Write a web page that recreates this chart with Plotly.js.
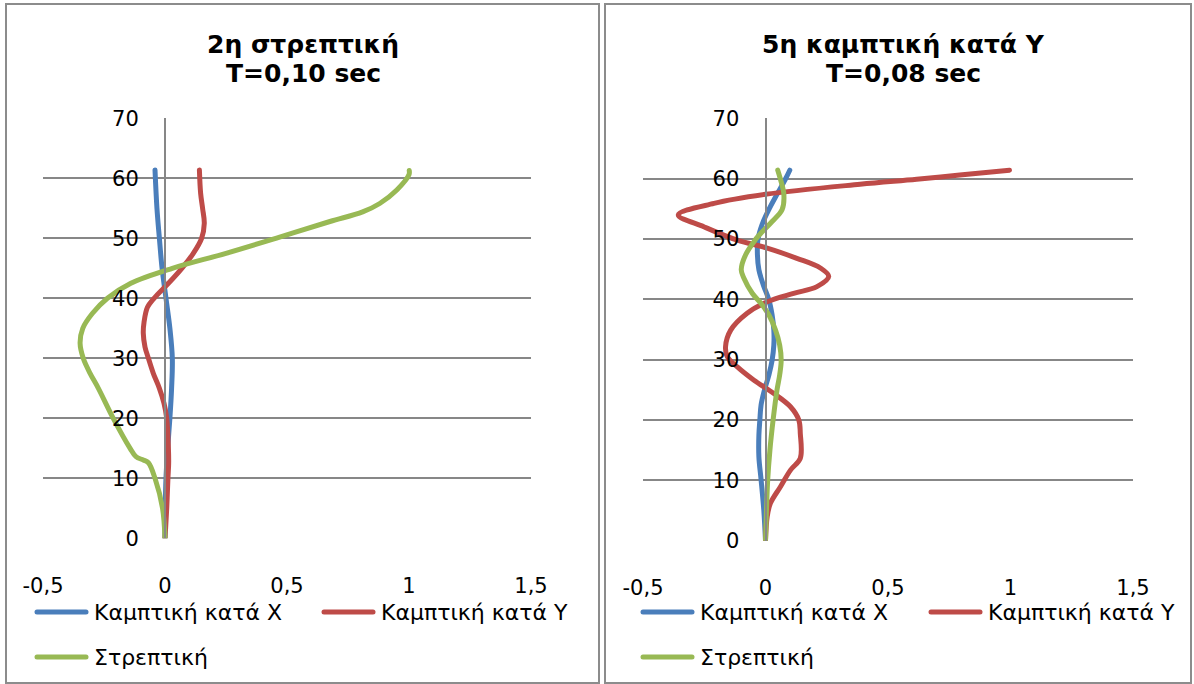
<!DOCTYPE html>
<html>
<head>
<meta charset="utf-8">
<script src="https://cdn.plot.ly/plotly-3.0.1.min.js"></script>
<style>
  html, body { margin: 0; padding: 0; background: #ffffff; }
  #chart { width: 1194px; height: 684px; }
  .scatterlayer .js-line { stroke-linecap: round; stroke-linejoin: round; }
  .legend-sample path { stroke-linecap: round; }
</style>
</head>
<body>
<div id="chart"></div>
<script>
// Mode shapes: normalised displacement (x) against building height in m (y)
const seriesNames = ['Καμπτική κατά Χ', 'Καμπτική κατά Υ', 'Στρεπτική'];
const seriesColors = ['#4A7EBB', '#BE4B48', '#98B954'];

const panelTitles = [
  ['2η στρεπτική', 'T=0,10 sec'],
  ['5η καμπτική κατά Υ', 'T=0,08 sec']
];

const xTickVals = [-0.5, 0, 0.5, 1, 1.5];
const xTickText = ['-0,5', '0', '0,5', '1', '1,5'];
const yTickVals = [0, 10, 20, 30, 40, 50, 60, 70];

// Panel 1 — 2η στρεπτική
const p1BendX_x = [0, 0.001, 0.004, 0.011, 0.020, 0.027, 0.030, 0.020, 0.004, -0.012, -0.023, -0.033, -0.041];
const p1BendX_y = [0, 5, 10, 15, 20, 25, 30, 35, 40, 45, 50, 55, 61.4];

const p1BendY_x = [0, 0.007, 0.012, 0.015, 0.014, 0.007, -0.004, -0.023, -0.048, -0.068, -0.082, -0.089, -0.086, -0.072, -0.045, 0.014, 0.069, 0.116, 0.150, 0.161, 0.154, 0.146, 0.141];
const p1BendY_y = [0, 5, 10, 12.5, 15, 20, 22.5, 25, 27.5, 30, 31.9, 34.2, 36, 38.5, 40, 42.5, 45, 47.5, 50, 52.5, 55, 57.5, 61.4];

const p1Tors_x = [0, -0.010, -0.041, -0.068, -0.089, -0.119, -0.143, -0.212, -0.273, -0.307, -0.335, -0.348, -0.337, -0.297, -0.236, -0.140, 0.030, 0.250, 0.470, 0.676, 0.810, 0.880, 0.950, 1.000, 1.001];
const p1Tors_y = [0, 5, 10, 12.6, 13.05, 13.6, 15, 20, 25, 27.5, 30, 32.5, 35, 37.5, 40, 42.5, 45, 47.5, 50.2, 52.8, 54.4, 55.8, 58.05, 60.6, 61.3];

// Panel 2 — 5η καμπτική κατά Υ
const p2BendX_x = [0, -0.007, -0.018, -0.027, -0.027, -0.023, -0.018, -0.004, 0.014, 0.027, 0.034, 0.034, 0.027, 0.014, -0.009, -0.027, -0.033, -0.031, -0.014, 0.014, 0.047, 0.081, 0.099];
const p2BendX_y = [0, 5.1, 10.1, 13.9, 17.5, 20.0, 22.5, 25.0, 27.5, 29.9, 32.4, 34.9, 37.4, 39.9, 42.4, 44.9, 47.4, 49.9, 52.4, 54.9, 57.4, 59.9, 61.4];

const p2BendY_x = [0, 0.007, 0.020, 0.061, 0.102, 0.142, 0.142, 0.136, 0.102, 0.034, -0.047, -0.115, -0.156, -0.163, -0.142, -0.075, 0.007, 0.115, 0.210, 0.258, 0.224, 0.128, 0.007, -0.115, -0.250, -0.356, -0.210, 0, 0.386, 0.617, 0.793, 0.996];
const p2BendY_y = [0, 4.0, 6.2, 8.95, 11.7, 13.65, 17.8, 20.0, 22.2, 24.4, 26.6, 28.8, 30.5, 32.2, 34.9, 37.7, 39.6, 41.0, 42.1, 43.8, 45.2, 46.8, 48.5, 49.8, 52.0, 54.0, 55.9, 57.4, 59.07, 59.9, 60.6, 61.4];

const p2Tors_x = [0, 0.004, 0.009, 0.018, 0.031, 0.047, 0.058, 0.064, 0.058, 0.041, 0.014, -0.014, -0.054, -0.088, -0.099, -0.081, -0.041, -0.020, 0.027, 0.068, 0.075, 0.061, 0.050];
const p2Tors_y = [0, 5.1, 10.1, 15.0, 20.0, 25.0, 27.5, 29.9, 32.4, 34.9, 37.4, 39.1, 41.0, 43.5, 44.9, 47.4, 49.9, 50.9, 52.9, 54.9, 57.4, 59.9, 61.4];

const W = 1194, H = 684;
const fx = px => px / W;
const fy = px => 1 - px / H;

const FONT = '"DejaVu Sans", Verdana, sans-serif';
const GRID = '#878787';
const LINE_W = 5;

function line(xs, ys, i, xa, ya) {
  return {
    x: xs, y: ys, xaxis: xa, yaxis: ya,
    type: 'scatter', mode: 'lines',
    name: seriesNames[i], showlegend: false,
    line: { color: seriesColors[i], width: LINE_W, shape: 'spline', smoothing: 1 },
    hoverinfo: 'x+y'
  };
}

const data = [
  line(p1BendX_x, p1BendX_y, 0, 'x', 'y'),
  line(p1BendY_x, p1BendY_y, 1, 'x', 'y'),
  line(p1Tors_x, p1Tors_y, 2, 'x', 'y'),
  line(p2BendX_x, p2BendX_y, 0, 'x2', 'y2'),
  line(p2BendY_x, p2BendY_y, 1, 'x2', 'y2'),
  line(p2Tors_x, p2Tors_y, 2, 'x2', 'y2')
];

function xAxis(x0, x1, anchor) {
  return {
    domain: [fx(x0), fx(x1)], anchor: anchor,
    range: [-0.5, 1.5], tickmode: 'array', tickvals: xTickVals, ticktext: xTickText,
    showgrid: false, zeroline: false, showline: false,
    ticks: 'outside', ticklen: 28, tickcolor: 'rgba(0,0,0,0)',
    tickfont: { family: FONT, size: 21, color: '#000' }, fixedrange: true
  };
}
function yAxis(top, bottom, zeroPx) {
  return {
    domain: [fy(bottom), fy(top)], anchor: 'free',
    position: fx(zeroPx), range: [0, 70], tickmode: 'array', tickvals: yTickVals,
    showgrid: true, gridcolor: GRID, gridwidth: 2, zeroline: false,
    showline: true, linecolor: GRID, linewidth: 2,
    ticks: 'outside', ticklen: 21, tickcolor: 'rgba(0,0,0,0)',
    tickfont: { family: FONT, size: 21, color: '#000' }, fixedrange: true
  };
}

const layout = {
  width: W, height: H,
  margin: { l: 0, r: 0, t: 0, b: 0, autoexpand: false },
  paper_bgcolor: '#ffffff', plot_bgcolor: '#ffffff',
  showlegend: false,
  separators: ', ',
  xaxis: xAxis(43, 531, 'y'),
  yaxis: yAxis(118.3, 538.3, 165),
  xaxis2: xAxis(643, 1133, 'y2'),
  yaxis2: yAxis(118.3, 540.7, 765.5),
  shapes: [],
  annotations: []
};

// Panel frames
[[6, 599], [605, 1191]].forEach(([a, b]) => {
  layout.shapes.push({
    type: 'rect', xref: 'paper', yref: 'paper',
    x0: fx(a), x1: fx(b), y0: fy(683), y1: fy(4),
    line: { color: '#8c8c8c', width: 2 }, fillcolor: 'rgba(0,0,0,0)'
  });
});

// Panel titles
[[303, panelTitles[0]], [903, panelTitles[1]]].forEach(([cx, lines]) => {
  lines.forEach((t, k) => {
    layout.annotations.push({
      xref: 'paper', yref: 'paper', x: fx(cx), y: fy(k === 0 ? 44 : 73),
      xanchor: 'center', yanchor: 'middle', showarrow: false,
      text: '<b>' + t + '</b>', font: { family: FONT, size: 25, color: '#000' }
    });
  });
});

// Legends (one per panel)
const legendRows = [
  { y: 612, items: [[0, 35], [1, 322], [2, 35]] },
  { y: 612, items: [[0, 641], [1, 929], [2, 641]] }
];
legendRows.forEach(p => {
  p.items.forEach(([i, x0], k) => {
    const y = k === 2 ? p.y + 45 : p.y;
    layout.shapes.push({
      type: 'line', xref: 'paper', yref: 'paper', name: 'legend-sample',
      x0: fx(x0 + 2), x1: fx(x0 + 51), y0: fy(y), y1: fy(y),
      line: { color: seriesColors[i], width: LINE_W }
    });
    layout.annotations.push({
      xref: 'paper', yref: 'paper', x: fx(x0 + 57), y: fy(y),
      xanchor: 'left', yanchor: 'middle', showarrow: false,
      text: seriesNames[i], font: { family: FONT, size: 22, color: '#000' }
    });
  });
});

Plotly.newPlot('chart', data, layout, { displayModeBar: false, staticPlot: true }).then(gd => {
  // round caps on the legend sample strokes
  gd.querySelectorAll('.shapelayer path').forEach(p => {
    const d = p.getAttribute('d') || '';
    if (d.indexOf('Z') === -1) p.style.strokeLinecap = 'round';
  });
});
</script>
</body>
</html>
